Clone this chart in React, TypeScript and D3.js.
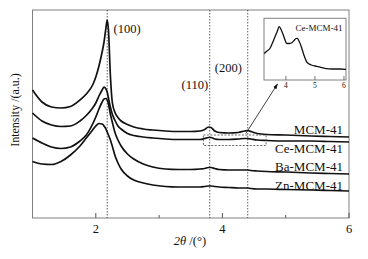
import React, { useEffect } from "react";
import * as d3 from "d3";

// ---- data (2θ in degrees, intensity in a.u.) ----
const twoTheta = [1.0, 1.15, 1.3, 1.45, 1.6, 1.75, 1.85, 1.95, 2.0, 2.05, 2.1, 2.13, 2.16, 2.18, 2.2, 2.23, 2.26, 2.3, 2.35, 2.4, 2.5, 2.6, 2.75, 2.9, 3.1, 3.3, 3.5, 3.65, 3.72, 3.78, 3.82, 3.88, 3.95, 4.1, 4.25, 4.35, 4.4, 4.45, 4.55, 4.7, 5.0, 5.4, 5.7, 6.0];
const mcm41 = [128, 116, 111, 110, 111.5, 118, 124, 133, 141, 152, 166, 176, 190, 198, 188, 143, 116, 106, 100.5, 97, 93.5, 91, 89, 88, 87, 86.5, 86.5, 87, 88.5, 91, 90.5, 87, 85.5, 85, 85.5, 87, 87.5, 86.5, 84.5, 83.5, 83, 82, 81.5, 81];
const ceMcm41 = [105, 97, 93, 91.5, 92, 97, 102.5, 110, 115, 122, 128, 131, 129, 126, 120, 111, 104, 98, 92, 89, 84.5, 82.5, 81, 80, 79, 78.5, 78.5, 78.5, 79.5, 80.5, 80.5, 79, 78.5, 78.5, 79, 79.5, 79.5, 79, 78, 77.5, 77, 77, 76.5, 76];
const baMcm41 = [80, 75, 71, 69.5, 71, 77, 83, 94, 101, 109, 116, 119, 119.5, 118, 114, 104, 96, 86, 78, 72, 64, 59, 54, 51, 49, 48.5, 48.5, 49, 49.5, 50.5, 50.5, 49.5, 48.5, 48, 48, 48, 48, 47.5, 47, 46.5, 46, 45, 44.5, 44];
const znMcm41 = [56.5, 54, 53.5, 56.5, 63, 72, 80, 88, 92, 94.5, 94, 92, 89, 86, 83, 78, 72, 63, 55, 49, 42, 38, 35, 33, 31.5, 31, 31, 31, 31.5, 32, 32, 31.5, 31, 30.5, 30, 30, 30, 29.5, 29, 29, 28.5, 28, 27.5, 27];
const seriesNames = ["MCM-41", "Ce-MCM-41", "Ba-MCM-41", "Zn-MCM-41"];
const seriesValues = [mcm41, ceMcm41, baMcm41, znMcm41];

const majorTicks = [2, 4, 6];
const minorTicks = [3, 5];
const peakPositions = [2.18, 3.8, 4.4];
const peakLabels = ["(100)", "(110)", "(200)"];

// inset: zoom of Ce-MCM-41
const insetTheta = [3.25, 3.35, 3.45, 3.55, 3.62, 3.7, 3.77, 3.84, 3.91, 3.97, 4.02, 4.1, 4.19, 4.28, 4.35, 4.39, 4.45, 4.53, 4.62, 4.71, 4.8, 4.88, 5.0, 5.11, 5.34, 5.6, 5.85, 6.07];
const insetCe = [26.5, 29, 31.5, 38, 43, 48.5, 53.3, 50, 45, 40, 36.7, 36.5, 37, 39.5, 41.5, 41.7, 39, 33.3, 25, 18.3, 16, 15, 14, 13.3, 11.7, 11, 11, 10.7];
const insetTicks = [4, 5, 6];
const insetTitle = "Ce-MCM-41";

// ---- layout ----
const W = 368, H = 259;
const plot = { left: 32.5, right: 349, top: 10, bottom: 218 };
const inset = { left: 264, right: 346, top: 18.3, bottom: 80 };
const FONT = "Liberation Serif";

export default function App() {
  useEffect(() => {
    document.body.style.margin = "0";
  }, []);

  const x = d3.scaleLinear().domain([1, 6]).range([plot.left, plot.right]);
  const y = d3.scaleLinear().domain([0, 208]).range([plot.bottom, plot.top]);
  const line = d3
    .line<number>()
    .x((_, i) => x(twoTheta[i]))
    .y((d) => y(d))
    .curve(d3.curveMonotoneX);

  const ix = d3.scaleLinear().domain([3.245, 6.07]).range([inset.left, inset.right]);
  const iy = d3.scaleLinear().domain([0, 61.7]).range([inset.bottom, inset.top]);
  const iline = d3
    .line<number>()
    .x((_, i) => ix(insetTheta[i]))
    .y((d) => iy(d))
    .curve(d3.curveMonotoneX);

  const labelY = [134, 152.5, 171, 189.5];

  // zoom box & arrow in data coords
  const boxX0 = 3.7, boxX1 = 4.69, boxY0 = 72.5, boxY1 = 83;
  const arrowFrom = [4.37, 84.5];
  const arrowTo = [4.87, 134];

  return (
    <svg width={W} height={H} style={{ display: "block", background: "#fff", fontFamily: FONT }}>
      <defs>
        <marker id="ah" viewBox="0 0 10 10" refX="9" refY="5" markerWidth="7" markerHeight="7" orient="auto">
          <path d="M0,1.5 L10,5 L0,8.5 z" fill="#111" />
        </marker>
      </defs>
      {/* frame */}
      <rect x={plot.left} y={plot.top} width={plot.right - plot.left} height={plot.bottom - plot.top} fill="none" stroke="#808080" strokeWidth={1} />
      {/* ticks */}
      {majorTicks.map((t) => (
        <g key={"M" + t}>
          <line x1={x(t)} x2={x(t)} y1={plot.bottom} y2={plot.bottom - 5} stroke="#555" strokeWidth={1} />
          <text x={x(t)} y={233} textAnchor="middle" fontSize={12.5} fill="#111">{t}</text>
        </g>
      ))}
      {minorTicks.map((t) => (
        <line key={"m" + t} x1={x(t)} x2={x(t)} y1={plot.bottom} y2={plot.bottom - 3} stroke="#555" strokeWidth={1} />
      ))}
      {/* peak guide lines */}
      {peakPositions.map((p) => (
        <line key={"p" + p} x1={x(p)} x2={x(p)} y1={plot.top} y2={plot.bottom} stroke="#333" strokeWidth={0.8} strokeDasharray="1.5,1.5" />
      ))}
      <text x={x(2.28)} y={33} fontSize={12.5} fill="#111">{peakLabels[0]}</text>
      <text x={x(3.775)} y={88.5} fontSize={12.5} fill="#111" textAnchor="end">{peakLabels[1]}</text>
      <text x={x(3.88)} y={71.5} fontSize={12.5} fill="#111">{peakLabels[2]}</text>
      {/* series */}
      {seriesValues.map((vals, k) => (
        <path key={seriesNames[k]} d={line(vals) || ""} fill="none" stroke="#111" strokeWidth={1.7} strokeLinejoin="round" />
      ))}
      {seriesNames.map((n, k) => (
        <text key={"l" + n} x={x(5.905)} y={labelY[k]} textAnchor="end" fontSize={13} fill="#111">
          {n}
        </text>
      ))}
      {/* zoom box and arrow */}
      <rect x={x(boxX0)} y={y(boxY1)} width={x(boxX1) - x(boxX0)} height={y(boxY0) - y(boxY1)} fill="none" stroke="#444" strokeWidth={0.8} strokeDasharray="2,1.5" />
      <line x1={x(arrowFrom[0])} y1={y(arrowFrom[1])} x2={x(arrowTo[0])} y2={y(arrowTo[1])} stroke="#111" strokeWidth={0.8} markerEnd="url(#ah)" />
      {/* inset */}
      <rect x={inset.left} y={inset.top} width={inset.right - inset.left} height={inset.bottom - inset.top} fill="#fff" stroke="#808080" strokeWidth={1} />
      {insetTicks.map((t) => (
        <g key={"i" + t}>
          <line x1={ix(t)} x2={ix(t)} y1={inset.bottom} y2={inset.bottom - 4} stroke="#555" strokeWidth={0.8} />
          <text x={ix(t)} y={88} textAnchor="middle" fontSize={7.5} fill="#111">{t}</text>
        </g>
      ))}
      <path d={iline(insetCe) || ""} fill="none" stroke="#111" strokeWidth={1.3} strokeLinejoin="round" />
      <text x={ix(5.95)} y={31} textAnchor="end" fontSize={9} fill="#111">{insetTitle}</text>
      {/* axis titles */}
      <text transform={`translate(19,${(plot.top + plot.bottom) / 2 - 4}) rotate(-90)`} textAnchor="middle" fontSize={12} fill="#111">
        Intensity /(a.u.)
      </text>
      <text x={190} y={245} textAnchor="middle" fontSize={12.5} fill="#111">
        <tspan fontStyle="italic">2θ</tspan>
        <tspan> /(°)</tspan>
      </text>
    </svg>
  );
}
